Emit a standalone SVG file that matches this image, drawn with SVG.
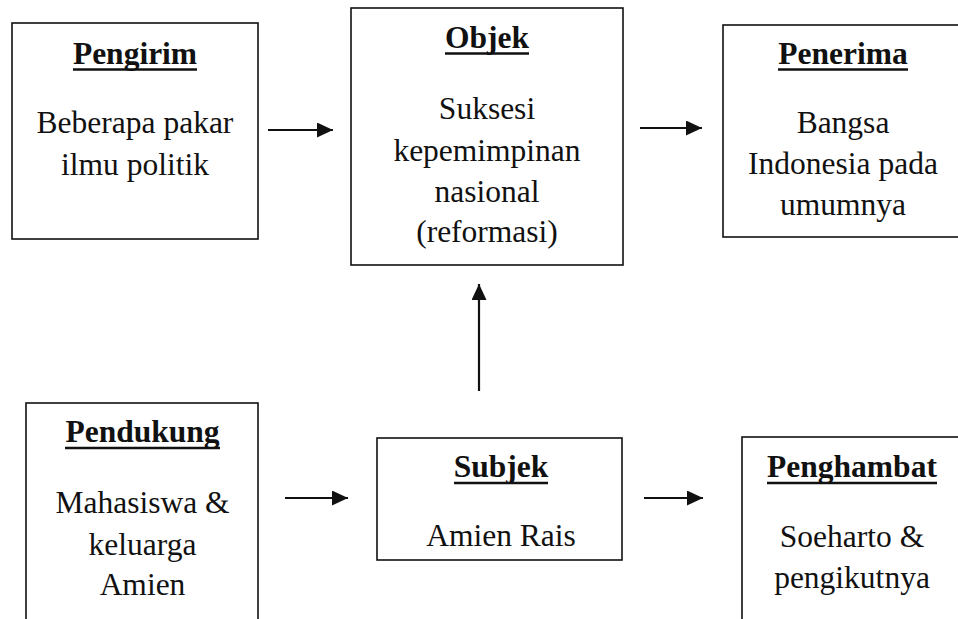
<svg xmlns="http://www.w3.org/2000/svg" width="958" height="619" viewBox="0 0 958 619">
<style>
.box{fill:#fff;stroke:#111;stroke-width:1.6}
.t{font-family:"Liberation Serif","Times New Roman",serif;font-size:31.5px;fill:#111;text-anchor:middle}
.b{font-weight:bold}
.ul{stroke:#111;stroke-width:2.6}
.c{stroke:#111;stroke-width:2.2;fill:none;marker-end:url(#ah)}
</style>
<defs>
<marker id="ah" markerUnits="userSpaceOnUse" markerWidth="17" markerHeight="16" refX="16" refY="7.5" orient="auto">
<path d="M0,0 L16,7.5 L0,15 z" fill="#111"/>
</marker>
</defs>
<rect width="958" height="619" fill="#fff"/>
<g id="pengirim">
<rect class="box" x="12" y="23" width="246" height="216"/>
<text class="t b" x="135" y="64">Pengirim</text>
<line class="ul" x1="73" y1="69.5" x2="197" y2="69.5"/>
<text class="t" x="135" y="133">Beberapa pakar</text>
<text class="t" x="135" y="175">ilmu politik</text>
</g>
<g id="objek">
<rect class="box" x="351" y="8" width="272" height="257"/>
<text class="t b" x="487" y="48">Objek</text>
<line class="ul" x1="445" y1="53.5" x2="529" y2="53.5"/>
<text class="t" x="487" y="119">Suksesi</text>
<text class="t" x="487" y="161">kepemimpinan</text>
<text class="t" x="487" y="202">nasional</text>
<text class="t" x="487" y="242">(reformasi)</text>
</g>
<g id="penerima">
<rect class="box" x="723" y="25" width="245" height="212"/>
<text class="t b" x="843" y="64">Penerima</text>
<line class="ul" x1="778" y1="69.5" x2="908" y2="69.5"/>
<text class="t" x="843" y="133">Bangsa</text>
<text class="t" x="843" y="174">Indonesia pada</text>
<text class="t" x="843" y="215">umumnya</text>
</g>
<g id="pendukung">
<rect class="box" x="26" y="403" width="232" height="230"/>
<text class="t b" x="142.5" y="442">Pendukung</text>
<line class="ul" x1="65" y1="448" x2="220" y2="448"/>
<text class="t" x="142.5" y="513">Mahasiswa &amp;</text>
<text class="t" x="142.5" y="555">keluarga</text>
<text class="t" x="142.5" y="595">Amien</text>
</g>
<g id="subjek">
<rect class="box" x="377" y="438" width="245" height="122"/>
<text class="t b" x="501" y="477">Subjek</text>
<line class="ul" x1="454" y1="483" x2="548" y2="483"/>
<text class="t" x="501" y="546">Amien Rais</text>
</g>
<g id="penghambat">
<rect class="box" x="742" y="437" width="230" height="200"/>
<text class="t b" x="852" y="477">Penghambat</text>
<line class="ul" x1="767" y1="483" x2="937" y2="483"/>
<text class="t" x="852" y="547">Soeharto &amp;</text>
<text class="t" x="852" y="588">pengikutnya</text>
</g>
<g id="connectors">
<line class="c" x1="268" y1="130" x2="333" y2="130"/>
<line class="c" x1="640" y1="128" x2="702" y2="128"/>
<line class="c" x1="285" y1="498" x2="348" y2="498"/>
<line class="c" x1="644" y1="498" x2="703" y2="498"/>
<line class="c" x1="479" y1="391" x2="479" y2="284"/>
</g>
</svg>
